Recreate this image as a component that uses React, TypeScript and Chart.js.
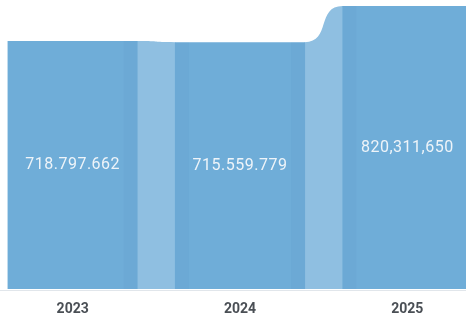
import React, { useEffect, useRef } from "react";
import { Chart, registerables } from "chart.js";

Chart.register(...registerables);

const categories = ["2023", "2024", "2025"];
const values = [718797662, 715559779, 820311650];
const valueLabels = ["718.797.662", "715.559.779", "820,311,650"];

const BAR_COLOR = "#6fadd8";
const LINK_COLOR = "#8fbfe1";
const SHADE_COLOR = "rgba(40,90,140,0.035)";

const connectorPlugin = {
  id: "connectors",
  beforeDatasetsDraw(chart: any) {
    const ctx = chart.ctx;
    const bars = chart.getDatasetMeta(0).data;
    ctx.save();
    for (let i = 0; i < bars.length - 1; i++) {
      const a = bars[i].getProps(["x", "y", "base", "width"], true);
      const b = bars[i + 1].getProps(["x", "y", "base", "width"], true);
      const x0 = a.x + a.width / 2 - 0.5;
      const x1 = b.x - b.width / 2 + 0.5;
      const g = x1 - x0;
      const k = 0.7;
      ctx.beginPath();
      ctx.moveTo(x0, a.base);
      ctx.lineTo(x0, a.y);
      ctx.bezierCurveTo(x0 + k * g, a.y, x1 - k * g, b.y, x1, b.y);
      ctx.lineTo(x1, b.base);
      ctx.closePath();
      ctx.fillStyle = LINK_COLOR;
      ctx.fill();
    }
    ctx.restore();
  },
  afterDatasetsDraw(chart: any) {
    const ctx = chart.ctx;
    const bars = chart.getDatasetMeta(0).data;
    ctx.save();
    for (let i = 0; i < bars.length - 1; i++) {
      const a = bars[i].getProps(["x", "y", "base", "width"], true);
      const b = bars[i + 1].getProps(["x", "y", "base", "width"], true);
      const s = 14;
      ctx.fillStyle = SHADE_COLOR;
      ctx.fillRect(a.x + a.width / 2 - s, a.y, s, a.base - a.y);
      ctx.fillRect(b.x - b.width / 2, b.y, s, b.base - b.y);
    }
    const area = chart.chartArea;
    ctx.strokeStyle = "rgba(205,214,222,0.6)";
    ctx.lineWidth = 1;
    ctx.beginPath();
    ctx.moveTo(area.left, area.bottom + 1.5);
    ctx.lineTo(area.right, area.bottom + 1.5);
    ctx.stroke();
    ctx.fillStyle = "#eef4f9";
    ctx.textAlign = "center";
    ctx.textBaseline = "middle";
    ctx.font = "16px Roboto, 'DejaVu Sans', sans-serif";
    try {
      (ctx as any).letterSpacing = "0.5px";
    } catch (e) {}
    bars.forEach((bar: any, i: number) => {
      const p = bar.getProps(["x", "y", "base"], true);
      ctx.fillText(valueLabels[i], p.x, (p.y + p.base) / 2);
    });
    ctx.restore();
  },
};

export default function App() {
  const ref = useRef<HTMLCanvasElement | null>(null);

  useEffect(() => {
    if (!ref.current) return;
    const chart = new Chart(ref.current, {
      type: "bar",
      data: {
        labels: categories,
        datasets: [
          {
            data: values,
            backgroundColor: BAR_COLOR,
            borderWidth: 0,
            categoryPercentage: 1,
            barPercentage: 0.778,
          },
        ],
      },
      options: {
        animation: false,
        responsive: false,
        maintainAspectRatio: false,
        layout: { padding: { top: 6, bottom: 1, left: 0, right: 0 } },
        plugins: {
          legend: { display: false },
          tooltip: { enabled: false },
        },
        scales: {
          x: {
            grid: { display: false, drawTicks: false },
            border: { display: false },
            afterFit(scale: any) {
              scale.height = 28;
            },
            ticks: {
              color: "#4a4f55",
              padding: 12,
              font: {
                family: "Roboto, 'DejaVu Sans', sans-serif",
                size: 14,
                weight: "bold",
              },
            },
          },
          y: {
            display: false,
            min: 0,
            max: Math.max(...values),
          },
        },
      },
      plugins: [connectorPlugin],
    });
    return () => chart.destroy();
  }, []);

  return (
    <div
      style={{
        position: "fixed",
        left: 0,
        top: 0,
        width: 466,
        height: 318,
        overflow: "hidden",
        background: "#ffffff",
      }}
    >
      <canvas
        ref={ref}
        width={502}
        height={318}
        style={{ position: "absolute", left: -11, top: 0, width: 502, height: 318 }}
      />
    </div>
  );
}
